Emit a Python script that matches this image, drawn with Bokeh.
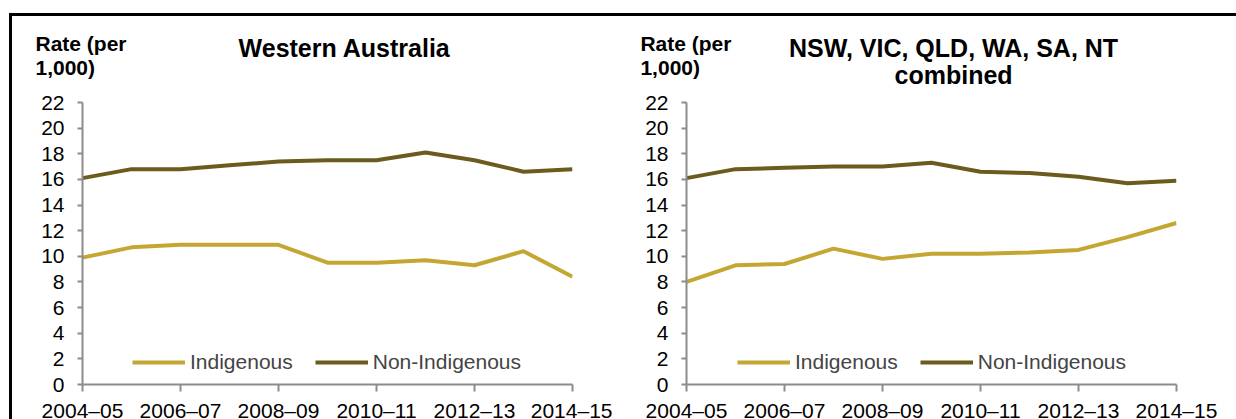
from bokeh.plotting import figure
from bokeh.layouts import row, column
from bokeh.models import Range1d, FixedTicker, Legend, LegendItem
from bokeh.core.properties import value
from bokeh.embed import file_html
from bokeh.resources import INLINE

years = ["2004–05", "2005–06", "2006–07", "2007–08", "2008–09", "2009–10",
         "2010–11", "2011–12", "2012–13", "2013–14", "2014–15"]
tick_labels = ["2004–05", "2006–07", "2008–09", "2010–11", "2012–13", "2014–15"]
y_ticks = [0, 2, 4, 6, 8, 10, 12, 14, 16, 18, 20, 22]

wa_indigenous = [9.9, 10.7, 10.9, 10.9, 10.9, 9.5, 9.5, 9.7, 9.3, 10.4, 8.4]
wa_non_indigenous = [16.1, 16.8, 16.8, 17.1, 17.4, 17.5, 17.5, 18.1, 17.5, 16.6, 16.8]
comb_indigenous = [8.0, 9.3, 9.4, 10.6, 9.8, 10.2, 10.2, 10.3, 10.5, 11.5, 12.6]
comb_non_indigenous = [16.1, 16.8, 16.9, 17.0, 17.0, 17.3, 16.6, 16.5, 16.2, 15.7, 15.9]

series_names = ["Indigenous", "Non-Indigenous"]
unit_lines = ["Rate (per", "1,000)"]
title_wa = ["Western Australia"]
title_comb = ["NSW, VIC, QLD, WA, SA, NT", "combined"]

FONT = "Liberation Sans"
C_IND = "#C4A733"
C_NON = "#6B5B1C"
AXIS_C = "#8C8C8C"

FRAME_W = 490
FRAME_H = 282
TOP_PAD = 12
HEAD_H = 74
BOTTOM_PAD = 50
Y_MAX = 22
X_MAX = 10


def no_align(fig):
    if "frame_align" in fig.properties():
        fig.frame_align = False


def make_panel(ind, non, width, left, legend_x, unit_x, title_lines, title_x, title_ys):
    right = width - left - FRAME_W
    ppx = FRAME_W / X_MAX
    ppy = FRAME_H / Y_MAX
    # header figure continuing the chart's scales above the plot area
    h = figure(width=width, height=HEAD_H, output_backend="svg", toolbar_location=None,
               x_range=Range1d(-left / ppx, (width - left) / ppx),
               y_range=Range1d(Y_MAX + TOP_PAD / ppy, Y_MAX + (TOP_PAD + HEAD_H) / ppy),
               min_border=0, x_axis_location=None, y_axis_location=None)
    h.outline_line_color = None
    h.grid.visible = False
    no_align(h)
    h.text(x=[unit_x, unit_x], y=[26.60, 24.73], text=unit_lines,
           text_font=value(FONT), text_font_size="21px", text_font_style="bold",
           text_align="left", text_baseline="alphabetic", text_color="black")
    h.text(x=[title_x] * len(title_lines), y=title_ys[:len(title_lines)], text=title_lines,
           text_font=value(FONT), text_font_size="25px", text_font_style="bold",
           text_align="center", text_baseline="alphabetic", text_color="black")

    p = figure(width=width, height=TOP_PAD + FRAME_H + BOTTOM_PAD, output_backend="svg",
               toolbar_location=None,
               x_range=Range1d(0, X_MAX), y_range=Range1d(0, Y_MAX),
               min_border_left=left, min_border_right=right,
               min_border_top=TOP_PAD, min_border_bottom=BOTTOM_PAD)
    p.outline_line_color = None
    p.grid.grid_line_color = None
    no_align(p)
    xs = list(range(len(years)))
    r1 = p.line(xs, ind, line_color=C_IND, line_width=4)
    r2 = p.line(xs, non, line_color=C_NON, line_width=4)

    for ax in (p.xaxis[0], p.yaxis[0]):
        ax.axis_line_color = AXIS_C
        ax.axis_line_width = 2
        ax.major_tick_line_color = AXIS_C
        ax.major_tick_line_width = 2
        ax.minor_tick_line_color = None
        ax.major_tick_in = 0
        ax.major_label_text_font = FONT
        ax.major_label_text_font_size = "21px"
        ax.major_label_text_color = "black"

    p.xaxis.ticker = FixedTicker(ticks=[0, 2, 4, 6, 8, 10])
    p.xaxis.major_label_overrides = {i * 2: t for i, t in enumerate(tick_labels)}
    p.xaxis.major_tick_out = 7
    p.xaxis.major_label_standoff = 7
    p.yaxis.ticker = FixedTicker(ticks=y_ticks)
    p.yaxis.major_tick_out = 5
    p.yaxis.major_label_standoff = 13

    legend = Legend(items=[LegendItem(label=series_names[0], renderers=[r1]),
                           LegendItem(label=series_names[1], renderers=[r2])],
                    orientation="horizontal", location=(legend_x, 10),
                    background_fill_alpha=0, border_line_color=None,
                    label_text_font=FONT, label_text_font_size="21px",
                    glyph_width=53, glyph_height=22, label_height=22,
                    label_standoff=5, spacing=22, padding=0, margin=0)
    p.add_layout(legend, "center")
    return column(h, p, spacing=0)


c1 = make_panel(wa_indigenous, wa_non_indigenous, 600, 70, 50, -0.96,
                title_wa, 5.35, [26.29])
c2 = make_panel(comb_indigenous, comb_non_indigenous, 624, 74, 51, -0.94,
                title_comb, 5.45, [26.29, 24.11])

layout = row(c1, c2, margin=(13, 0, 0, 9), spacing=0,
             styles={"border-top": "3px solid black", "border-left": "3px solid black"})

open("out.html", "w").write(file_html(layout, INLINE))
